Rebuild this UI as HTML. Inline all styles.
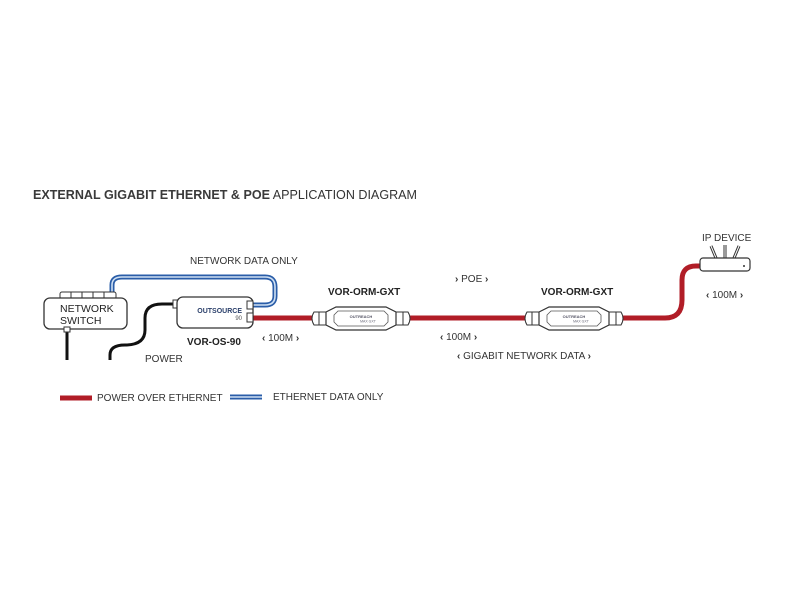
<!DOCTYPE html>
<html><head><meta charset="utf-8"><style>
html,body{margin:0;padding:0;background:#fff;}
svg{display:block;font-family:"Liberation Sans",Arial,sans-serif;}
</style></head><body>
<svg width="800" height="600" viewBox="0 0 800 600" xmlns="http://www.w3.org/2000/svg">
<defs>
<g id="orm">
  <rect x="0" y="306" width="98" height="25" fill="#fff"/>
  <path d="M2,312 H14 V325 H2 Q-2,318.5 2,312 Z" fill="#fff" stroke="#333" stroke-width="1"/>
  <rect x="7" y="312" width="7" height="13" fill="#fff" stroke="#333" stroke-width="1"/>
  <path d="M96,312 H84 V325 H96 Q100,318.5 96,312 Z" fill="#fff" stroke="#333" stroke-width="1"/>
  <rect x="84" y="312" width="7" height="13" fill="#fff" stroke="#333" stroke-width="1"/>
  <path d="M14,312 L24,307 H74 L84,312 V325 L74,330 H24 L14,325 Z" fill="#fff" stroke="#333" stroke-width="1.2"/>
  <path d="M26,311 H72 L76,315 V322 L72,326 H26 L22,322 V315 Z" fill="#fff" stroke="#555" stroke-width="0.8"/>
  <text x="49" y="318" font-size="4" text-anchor="middle" fill="#556" font-weight="bold">OUTREACH</text>
  <text x="56" y="322.5" font-size="3.5" text-anchor="middle" fill="#667">MAX GXT</text>
</g>
</defs>
<rect width="800" height="600" fill="#fff"/>
<text x="33" y="199" font-size="12.5" fill="#333" textLength="384" lengthAdjust="spacingAndGlyphs"><tspan font-weight="bold" fill="#3a3a3a">EXTERNAL GIGABIT ETHERNET &amp; POE</tspan> APPLICATION DIAGRAM</text>

<!-- black cables -->
<path d="M67,328 V360" stroke="#111" stroke-width="3" fill="none"/>
<path d="M110,360 V355 Q110,345 125,345 Q145,345 145,330 V318 Q145,304 162,304 H176" stroke="#111" stroke-width="3" fill="none"/>

<!-- blue cable -->
<path d="M112,297 V285 Q112,277 122,277 H265 Q275,277 275,287 V296 Q275,305 265,305 H253" stroke="#2a5da8" stroke-width="5" fill="none"/>
<path d="M112,297 V285 Q112,277 122,277 H265 Q275,277 275,287 V296 Q275,305 265,305 H253" stroke="#cfe0f3" stroke-width="1.6" fill="none"/>

<!-- red cables -->
<path d="M253,318 H313 M409,318 H526 M622,318 H665 Q682,318 682,300 V280 Q682,266 696,266 H701" stroke="#b11d27" stroke-width="5" fill="none"/>

<!-- switch -->
<rect x="60" y="292" width="56" height="7" rx="2" fill="#fff" stroke="#333"/>
<path d="M71,292 V299 M82,292 V299 M93,292 V299 M104,292 V299" stroke="#333"/>
<rect x="44" y="298" width="83" height="31" rx="6" fill="#fff" stroke="#333" stroke-width="1.3"/>
<rect x="64" y="327" width="6" height="5" fill="#fff" stroke="#333"/>
<text x="60" y="312" font-size="10.5" fill="#222">NETWORK</text>
<text x="60" y="324" font-size="10.5" fill="#222">SWITCH</text>

<!-- outsource -->
<rect x="173" y="300" width="5" height="8" fill="#fff" stroke="#333"/>
<rect x="177" y="297" width="76" height="31" rx="6" fill="#fff" stroke="#333" stroke-width="1.3"/>
<rect x="247" y="301" width="6" height="8" fill="#fff" stroke="#333"/>
<rect x="247" y="313" width="6" height="9" fill="#fff" stroke="#333"/>
<text x="242" y="313" font-size="7" text-anchor="end" fill="#2a3f6a" font-weight="bold">OUTSOURCE</text>
<text x="242" y="320" font-size="6" text-anchor="end" fill="#555">90</text>

<!-- ORMs -->
<use href="#orm" x="312" y="0"/>
<use href="#orm" x="525" y="0"/>

<!-- IP device -->
<path d="M716,258 L711,246 M725,258 V245 M734,258 L739,246" stroke="#333" stroke-width="3"/>
<path d="M716,258 L711,246 M725,258 V245 M734,258 L739,246" stroke="#fff" stroke-width="1"/>
<rect x="700" y="258" width="50" height="13" rx="3" fill="#fff" stroke="#333" stroke-width="1.2"/>
<circle cx="744" cy="266" r="1" fill="#333"/>

<!-- labels -->
<g font-size="10" fill="#333">
<text x="190" y="264">NETWORK DATA ONLY</text>
<text x="145" y="362">POWER</text>
<text x="262" y="341"><tspan font-weight="bold">‹</tspan> 100M <tspan font-weight="bold">›</tspan></text>
<text x="440" y="340"><tspan font-weight="bold">‹</tspan> 100M <tspan font-weight="bold">›</tspan></text>
<text x="455" y="282"><tspan font-weight="bold">›</tspan> POE <tspan font-weight="bold">›</tspan></text>
<text x="457" y="359"><tspan font-weight="bold">‹</tspan> GIGABIT NETWORK DATA <tspan font-weight="bold">›</tspan></text>
<text x="702" y="241">IP DEVICE</text>
<text x="706" y="298"><tspan font-weight="bold">‹</tspan> 100M <tspan font-weight="bold">›</tspan></text>
<text x="97" y="401">POWER OVER ETHERNET</text>
<text x="273" y="400">ETHERNET DATA ONLY</text>
</g>
<g font-size="10" font-weight="bold" fill="#222">
<text x="187" y="345">VOR-OS-90</text>
<text x="328" y="295">VOR-ORM-GXT</text>
<text x="541" y="295">VOR-ORM-GXT</text>
</g>

<!-- legend -->
<path d="M60,398 H92" stroke="#b11d27" stroke-width="5"/>
<path d="M230,397 H262" stroke="#2a5da8" stroke-width="5"/>
<path d="M230,397 H262" stroke="#cfe0f3" stroke-width="1.5"/>
</svg>
</body></html>
